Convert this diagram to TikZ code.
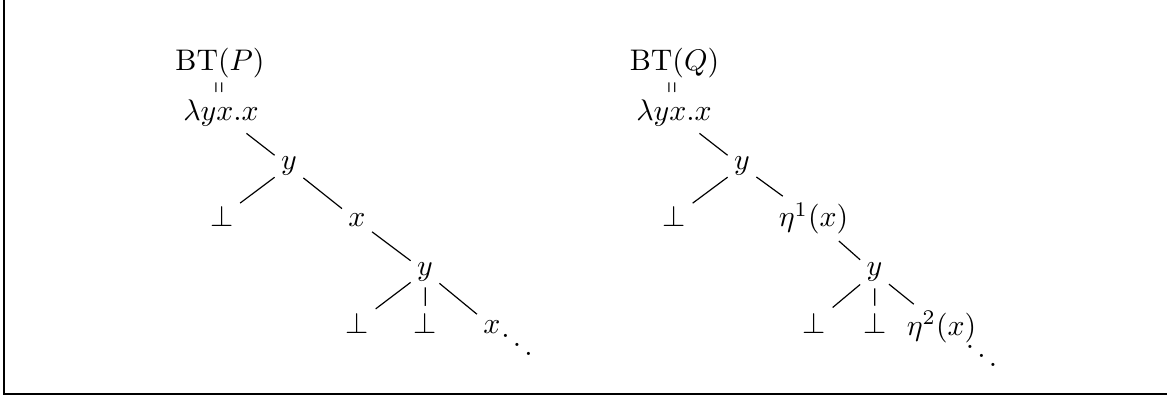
\documentclass[tikz,border=0pt]{standalone}
\usepackage{graphicx}
\tikzset{
  lbl/.style={anchor=base, inner sep=2pt},
  eqsign/.style={anchor=center, inner sep=0pt},
  branch/.style={line width=0.4pt},
  frameline/.style={line width=0.4pt}
}
\newcommand{\vereq}{\rotatebox{90}{\scalebox{0.5}[1]{$=$}}}
\begin{document}
\begin{tikzpicture}[x=0.3356pt, y=-0.3356pt]
  \useasboundingbox (0,0) rectangle (1167,396);
  % open frame: left and bottom rules
  \draw[frameline] (4,0) -- (4,394) -- (1167,394);

  % Boehm tree of P
  \node[lbl] (btP)  at (220,71)  {$\mathrm{BT}(P)$};
  \node[eqsign] (eqP) at (221,88) {\vereq};
  \node[lbl] (lamP) at (221,121) {$\lambda yx.x$};
  \node[lbl] (yP1)  at (289,170) {$y$};
  \node[lbl] (botP1) at (222,227) {$\bot$};
  \node[lbl] (xP1)  at (357,227) {$x$};
  \node[lbl] (yP2)  at (425,275) {$y$};
  \node[lbl] (botP2) at (357.5,333) {$\bot$};
  \node[lbl] (botP3) at (425.5,333) {$\bot$};
  \node[lbl] (xP2)  at (492,333) {$x$};
  \node[lbl] (ddP)  at (517,358) {$\ddots$};

  \draw[branch] (lamP) -- (yP1);
  \draw[branch] (yP1) -- (botP1);
  \draw[branch] (yP1) -- (xP1);
  \draw[branch] (xP1) -- (yP2);
  \draw[branch] (yP2) -- (botP2);
  \draw[branch] (yP2) -- (botP3);
  \draw[branch] (yP2) -- (xP2);

  % Boehm tree of Q
  \node[lbl] (btQ)  at (674.5,71) {$\mathrm{BT}(Q)$};
  \node[eqsign] (eqQ) at (674,88) {\vereq};
  \node[lbl] (lamQ) at (674,121) {$\lambda yx.x$};
  \node[lbl] (yQ1)  at (742,170) {$y$};
  \node[lbl] (botQ1) at (674.5,227) {$\bot$};
  \node[lbl] (etaQ1) at (813.5,227) {$\eta^1(x)$};
  \node[lbl] (yQ2)  at (874.5,276) {$y$};
  \node[lbl] (botQ2) at (814.5,333) {$\bot$};
  \node[lbl] (botQ3) at (875,333) {$\bot$};
  \node[lbl] (etaQ2) at (941.5,335) {$\eta^2(x)$};
  \node[lbl] (ddQ)  at (981.5,369) {$\ddots$};

  \draw[branch] (lamQ) -- (yQ1);
  \draw[branch] (yQ1) -- (botQ1);
  \draw[branch] (yQ1) -- (etaQ1);
  \draw[branch] (etaQ1) -- (yQ2);
  \draw[branch] (yQ2) -- (botQ2);
  \draw[branch] (yQ2) -- (botQ3);
  \draw[branch] (yQ2) -- (etaQ2);
\end{tikzpicture}
\end{document}
